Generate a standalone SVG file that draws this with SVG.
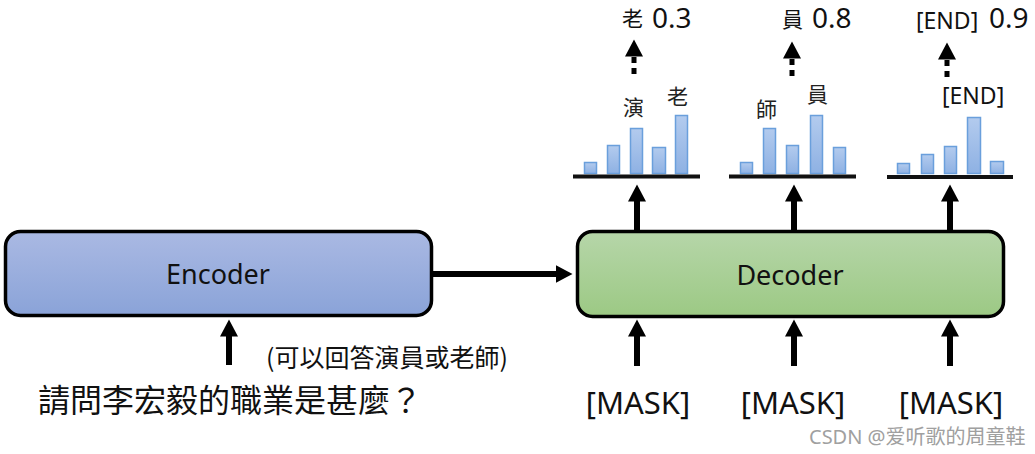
<svg xmlns="http://www.w3.org/2000/svg" width="1035" height="454" viewBox="0 0 1035 454">
  <style>
    text { font-family: "Noto Sans", "Noto Sans CJK TC", sans-serif; fill: #111; }
    .box { stroke: #000; stroke-width: 3.5; }
    .boxlabel { font-size: 27px; text-anchor: middle; }
    .mask { font-size: 31px; text-anchor: middle; }
    .cjk { font-family: "Noto Sans CJK TC", sans-serif; }
    .tok { font-size: 21px; fill: #222; }
    .score { font-size: 28px; }
    .bar { fill: url(#barFill); stroke: #6a9fdc; stroke-width: 1.5; }
    .axis { stroke: #111; stroke-width: 4; }
    .conn { stroke: #000; stroke-width: 6; fill: none; marker-end: url(#head); }
    .dots { stroke: #000; stroke-width: 5; fill: none; stroke-dasharray: 6 5; marker-end: url(#head); }
    .wm { font-size: 20px; fill: #a0a0a0; }
  </style>
  <defs>
    <linearGradient id="encFill" x1="0" y1="0" x2="0" y2="1">
      <stop offset="0" stop-color="#aab9e3"/>
      <stop offset="1" stop-color="#8aa3d8"/>
    </linearGradient>
    <linearGradient id="decFill" x1="0" y1="0" x2="0" y2="1">
      <stop offset="0" stop-color="#b6d6a9"/>
      <stop offset="1" stop-color="#9cc984"/>
    </linearGradient>
    <linearGradient id="barFill" x1="0" y1="0" x2="0" y2="1">
      <stop offset="0" stop-color="#b3cbee"/>
      <stop offset="1" stop-color="#8eb1e3"/>
    </linearGradient>
    <marker id="head" markerUnits="userSpaceOnUse" markerWidth="18" markerHeight="18" refX="0.5" refY="9" orient="auto">
      <path d="M0,0 L17,9 L0,18 Z" fill="#000"/>
    </marker>
  </defs>

  <!-- encoder block -->
  <g id="encoder">
    <rect class="box" x="5.5" y="231.5" width="426" height="84" rx="15" fill="url(#encFill)"/>
    <text class="boxlabel" x="218" y="284">Encoder</text>
  </g>

  <!-- decoder block -->
  <g id="decoder">
    <rect class="box" x="577.5" y="231.5" width="426" height="85" rx="15" fill="url(#decFill)"/>
    <text class="boxlabel" x="790" y="285">Decoder</text>
  </g>

  <!-- input question -->
  <g id="question">
    <text class="cjk" x="38" y="412" font-size="32">請問李宏毅的職業是甚麼？</text>
  </g>
  <g id="hint">
    <text class="cjk" x="266" y="367" font-size="25" fill="#222">(可以回答演員或老師)</text>
  </g>

  <!-- decoder inputs -->
  <g id="mask1"><text class="mask" x="638" y="414">[MASK]</text></g>
  <g id="mask2"><text class="mask" x="793" y="414">[MASK]</text></g>
  <g id="mask3"><text class="mask" x="951" y="414">[MASK]</text></g>

  <!-- output distribution 1 -->
  <g id="dist1">
    <rect class="bar" x="584.5" y="162.5" width="12" height="11"/>
    <rect class="bar" x="607.5" y="145.5" width="12" height="28"/>
    <rect class="bar" x="630.5" y="128.5" width="12" height="45"/>
    <rect class="bar" x="652.5" y="147.5" width="13" height="26"/>
    <rect class="bar" x="675.5" y="115.5" width="12" height="58"/>
    <line class="axis" x1="573" y1="176.5" x2="700" y2="176.5"/>
    <text class="cjk tok" x="623" y="115">演</text>
    <text class="cjk tok" x="667" y="104">老</text>
  </g>

  <!-- output distribution 2 -->
  <g id="dist2">
    <rect class="bar" x="740.5" y="162.5" width="12" height="11"/>
    <rect class="bar" x="763.5" y="128.5" width="12" height="45"/>
    <rect class="bar" x="786.5" y="145.5" width="12" height="28"/>
    <rect class="bar" x="810.5" y="115.5" width="12" height="58"/>
    <rect class="bar" x="833.5" y="147.5" width="12" height="26"/>
    <line class="axis" x1="729" y1="176.5" x2="856" y2="176.5"/>
    <text class="cjk tok" x="756" y="117">師</text>
    <text class="cjk tok" x="807" y="102">員</text>
  </g>

  <!-- output distribution 3 -->
  <g id="dist3">
    <rect class="bar" x="897.5" y="163.5" width="12" height="10"/>
    <rect class="bar" x="921.5" y="154.5" width="12" height="19"/>
    <rect class="bar" x="944.5" y="146.5" width="12" height="27"/>
    <rect class="bar" x="967.5" y="117.5" width="13" height="56"/>
    <rect class="bar" x="990.5" y="161.5" width="13" height="12"/>
    <line class="axis" x1="887" y1="177" x2="1013" y2="177"/>
    <text x="942" y="104" font-size="23">[END]</text>
  </g>

  <!-- chosen tokens -->
  <g id="out1">
    <text class="cjk" x="622" y="26" font-size="21">老</text>
    <text class="score" x="652" y="28">0.3</text>
  </g>
  <g id="out2">
    <text class="cjk" x="782" y="27" font-size="21">員</text>
    <text class="score" x="812" y="28">0.8</text>
  </g>
  <g id="out3">
    <text x="916" y="29" font-size="23">[END]</text>
    <text class="score" x="989" y="28">0.9</text>
  </g>

  <!-- connectors -->
  <g id="connectors">
    <line class="conn" x1="433" y1="274" x2="556" y2="274"/>
    <line class="conn" x1="229" y1="365" x2="229" y2="336"/>
    <line class="conn" x1="637" y1="366" x2="637" y2="336"/>
    <line class="conn" x1="794" y1="366" x2="794" y2="336"/>
    <line class="conn" x1="950" y1="366" x2="950" y2="336"/>
    <line class="conn" x1="637" y1="230" x2="637" y2="201"/>
    <line class="conn" x1="794" y1="230" x2="794" y2="201"/>
    <line class="conn" x1="950" y1="230" x2="950" y2="201"/>
    <line class="dots" x1="634" y1="74" x2="634" y2="56"/>
    <line class="dots" x1="792" y1="76" x2="792" y2="58"/>
    <line class="dots" x1="947" y1="77" x2="947" y2="59"/>
  </g>

  <text class="wm" x="809" y="444">CSDN @爱听歌的周童鞋</text>
</svg>
